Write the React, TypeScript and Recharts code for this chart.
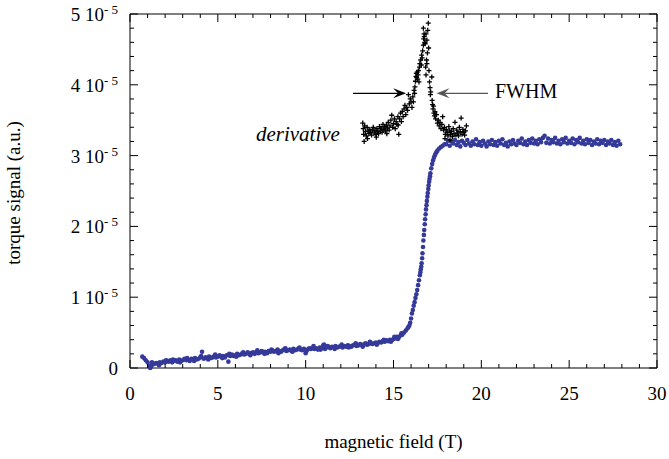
import {
  ScatterChart, Scatter, XAxis, YAxis, ReferenceArea, ReferenceLine, ReferenceDot,
} from "recharts";

// torque values are in units of 1e-5 (a.u.)
const lowField: [number, number][] = [
  [0.7, 0.16], [0.8, 0.14], [0.9, 0.11], [1.0, 0.08], [1.1, 0.03], [1.15, 0.0], [1.2, 0.02],
  [1.3, 0.05], [1.4, 0.06], [1.5, 0.07], [1.6, 0.06], [1.7, 0.08], [1.8, 0.07], [1.9, 0.09],
  [2.0, 0.08], [2.1, 0.10], [2.2, 0.09], [2.3, 0.11], [2.4, 0.08], [2.5, 0.10], [2.6, 0.11],
  [2.7, 0.09], [2.8, 0.12], [2.9, 0.10], [3.0, 0.11], [3.1, 0.13], [3.2, 0.11], [3.3, 0.12],
  [3.4, 0.10], [3.5, 0.13], [3.6, 0.12], [3.7, 0.14], [3.8, 0.12], [3.9, 0.13], [4.0, 0.15],
  [4.1, 0.23], [4.2, 0.13], [4.3, 0.15], [4.4, 0.14], [4.5, 0.16], [4.6, 0.14], [4.7, 0.15],
  [4.8, 0.17], [4.9, 0.15], [5.0, 0.16], [5.1, 0.18], [5.2, 0.16], [5.3, 0.17], [5.4, 0.15],
  [5.5, 0.18], [5.6, 0.09], [5.7, 0.17], [5.8, 0.19], [5.9, 0.17], [6.0, 0.18], [6.1, 0.20],
  [6.2, 0.18], [6.3, 0.19], [6.4, 0.21], [6.5, 0.19], [6.6, 0.20], [6.7, 0.22], [6.8, 0.20],
  [6.9, 0.21], [7.0, 0.22], [7.1, 0.20], [7.2, 0.23], [7.3, 0.21], [7.4, 0.22], [7.5, 0.24],
  [7.6, 0.22], [7.7, 0.23], [7.8, 0.21], [7.9, 0.24], [8.0, 0.23], [8.1, 0.25], [8.2, 0.23],
  [8.3, 0.24], [8.4, 0.26], [8.5, 0.24], [8.6, 0.23], [8.7, 0.25], [8.8, 0.27], [8.9, 0.24],
  [9.0, 0.25], [9.1, 0.26], [9.2, 0.24], [9.3, 0.27], [9.4, 0.25], [9.5, 0.26], [9.6, 0.28],
  [9.7, 0.26], [9.8, 0.25], [9.9, 0.27], [10.0, 0.21], [10.1, 0.26], [10.2, 0.28], [10.3, 0.27],
  [10.4, 0.29], [10.5, 0.27], [10.6, 0.28], [10.7, 0.26], [10.8, 0.29], [10.9, 0.28], [11.0, 0.32],
  [11.1, 0.27], [11.2, 0.29], [11.3, 0.30], [11.4, 0.28], [11.5, 0.30], [11.6, 0.29], [11.7, 0.31],
  [11.8, 0.29], [11.9, 0.30], [12.0, 0.31], [12.1, 0.29], [12.2, 0.31], [12.3, 0.30], [12.4, 0.32],
  [12.5, 0.31], [12.6, 0.30], [12.7, 0.32], [12.8, 0.33], [12.9, 0.31], [13.0, 0.32], [13.1, 0.34],
  [13.2, 0.32], [13.3, 0.33], [13.4, 0.35], [13.5, 0.33], [13.6, 0.34], [13.7, 0.36], [13.8, 0.34],
  [13.9, 0.35], [14.0, 0.36], [14.1, 0.35], [14.2, 0.37], [14.3, 0.36], [14.4, 0.38], [14.5, 0.37],
  [14.6, 0.39], [14.7, 0.38], [14.8, 0.40], [14.9, 0.39], [15.0, 0.41], [15.1, 0.42], [15.2, 0.44],
  [15.3, 0.43], [15.4, 0.46],
];

// second pass of low-field readings (the scatter around the trend)
const lowFieldExtra: [number, number][] = [
  [1.25, 0.08], [1.65, 0.04], [2.05, 0.11], [2.45, 0.12], [2.85, 0.08], [3.25, 0.14], [3.65, 0.10],
  [4.05, 0.17], [4.45, 0.12], [4.85, 0.19], [5.25, 0.14], [5.65, 0.20], [6.05, 0.16], [6.45, 0.22],
  [6.85, 0.18], [7.25, 0.25], [7.65, 0.20], [8.05, 0.26], [8.45, 0.21], [8.85, 0.28], [9.25, 0.23],
  [9.65, 0.29], [10.05, 0.24], [10.45, 0.31], [10.85, 0.26], [11.05, 0.33], [11.25, 0.31],
  [11.65, 0.27], [12.05, 0.33], [12.45, 0.29], [12.85, 0.35], [13.25, 0.30], [13.65, 0.37],
  [14.05, 0.33], [14.45, 0.40], [14.85, 0.37], [15.05, 0.44], [15.25, 0.41], [15.45, 0.49],
];

const transition: [number, number][] = [
  [15.5, 0.47], [15.6, 0.50], [15.7, 0.53], [15.8, 0.56], [15.85, 0.58], [15.9, 0.60], [15.95, 0.64],
  [16.0, 0.70], [16.05, 0.77], [16.1, 0.82], [16.15, 0.88], [16.2, 0.93], [16.25, 0.99],
  [16.3, 1.04], [16.35, 1.10], [16.4, 1.17], [16.45, 1.24], [16.5, 1.31], [16.53, 1.35],
  [16.55, 1.39], [16.58, 1.43], [16.6, 1.48], [16.63, 1.55], [16.65, 1.62], [16.68, 1.71],
  [16.7, 1.80], [16.73, 1.88], [16.75, 1.95], [16.78, 2.03], [16.8, 2.10], [16.83, 2.17],
  [16.85, 2.24], [16.88, 2.30], [16.9, 2.36], [16.93, 2.42], [16.95, 2.47], [16.98, 2.53],
  [17.0, 2.58], [17.03, 2.63], [17.05, 2.67], [17.08, 2.71], [17.1, 2.75], [17.15, 2.82],
  [17.2, 2.88], [17.25, 2.93], [17.3, 2.97], [17.35, 3.00], [17.4, 3.03], [17.45, 3.05],
  [17.5, 3.07], [17.6, 3.10], [17.7, 3.12], [17.8, 3.14], [17.9, 3.16],
];

const plateau: [number, number][] = [
  [18.0, 3.16], [18.1, 3.21], [18.2, 3.14], [18.3, 3.20], [18.4, 3.17], [18.5, 3.22], [18.6, 3.15],
  [18.7, 3.19], [18.8, 3.13], [18.9, 3.21], [19.0, 3.18], [19.1, 3.15], [19.2, 3.22], [19.3, 3.17],
  [19.4, 3.14], [19.5, 3.20], [19.6, 3.16], [19.7, 3.23], [19.8, 3.15], [19.9, 3.19], [20.0, 3.14],
  [20.1, 3.21], [20.2, 3.17], [20.3, 3.13], [20.4, 3.20], [20.5, 3.16], [20.6, 3.22], [20.7, 3.15],
  [20.8, 3.19], [20.9, 3.14], [21.0, 3.21], [21.1, 3.17], [21.2, 3.23], [21.3, 3.15], [21.4, 3.18],
  [21.5, 3.13], [21.6, 3.20], [21.7, 3.16], [21.8, 3.22], [21.9, 3.17], [22.0, 3.15], [22.1, 3.21],
  [22.2, 3.18], [22.3, 3.24], [22.4, 3.16], [22.5, 3.20], [22.6, 3.15], [22.7, 3.22], [22.8, 3.18],
  [22.9, 3.24], [23.0, 3.17], [23.1, 3.21], [23.2, 3.16], [23.3, 3.23], [23.4, 3.19], [23.5, 3.25],
  [23.6, 3.28], [23.7, 3.18], [23.8, 3.24], [23.9, 3.17], [24.0, 3.22], [24.1, 3.19], [24.2, 3.25],
  [24.3, 3.17], [24.4, 3.21], [24.5, 3.16], [24.6, 3.23], [24.7, 3.19], [24.8, 3.25], [24.9, 3.17],
  [25.0, 3.21], [25.1, 3.18], [25.2, 3.24], [25.3, 3.16], [25.4, 3.22], [25.5, 3.19], [25.6, 3.25],
  [25.7, 3.17], [25.8, 3.21], [25.9, 3.16], [26.0, 3.23], [26.1, 3.18], [26.2, 3.22], [26.3, 3.15],
  [26.4, 3.20], [26.5, 3.17], [26.6, 3.23], [26.7, 3.16], [26.8, 3.21], [26.9, 3.18], [27.0, 3.22],
  [27.1, 3.15], [27.2, 3.20], [27.3, 3.17], [27.4, 3.22], [27.5, 3.15], [27.6, 3.19], [27.7, 3.14],
  [27.8, 3.21], [27.9, 3.16],
];

const derivative: [number, number][] = [
  [13.25, 3.46], [13.28, 3.38], [13.3, 3.30], [13.33, 3.20], [13.36, 3.42], [13.4, 3.34],
  [13.45, 3.28], [13.5, 3.40], [13.52, 3.24], [13.55, 3.35], [13.6, 3.31], [13.65, 3.37],
  [13.7, 3.33], [13.75, 3.29], [13.8, 3.36], [13.85, 3.40], [13.9, 3.32], [13.95, 3.35],
  [14.0, 3.30], [14.02, 3.26], [14.05, 3.38], [14.1, 3.34], [14.15, 3.31], [14.2, 3.41],
  [14.25, 3.36], [14.3, 3.39], [14.35, 3.33], [14.4, 3.44], [14.45, 3.37], [14.5, 3.41],
  [14.55, 3.35], [14.6, 3.43], [14.62, 3.31], [14.65, 3.39], [14.7, 3.47], [14.75, 3.36],
  [14.8, 3.42], [14.85, 3.50], [14.9, 3.57], [14.95, 3.40], [15.0, 3.45], [15.05, 3.52],
  [15.1, 3.38], [15.15, 3.48], [15.2, 3.44], [15.25, 3.55], [15.27, 3.43], [15.3, 3.30],
  [15.35, 3.52], [15.4, 3.60], [15.45, 3.48], [15.5, 3.62], [15.55, 3.55], [15.6, 3.66],
  [15.65, 3.71], [15.7, 3.58], [15.75, 3.68], [15.8, 3.64], [15.85, 3.86], [15.9, 3.73],
  [15.95, 3.80], [16.0, 3.76], [16.05, 3.68], [16.1, 3.83], [16.13, 3.76], [16.17, 3.92],
  [16.2, 3.88], [16.22, 3.97], [16.25, 4.05], [16.28, 4.12], [16.3, 4.16], [16.32, 4.10],
  [16.35, 4.18], [16.38, 4.08], [16.4, 4.14], [16.42, 4.20], [16.45, 4.04], [16.48, 4.25],
  [16.5, 4.30], [16.55, 4.35], [16.58, 4.28], [16.6, 4.42], [16.63, 4.38], [16.66, 4.48],
  [16.7, 4.56], [16.72, 4.65], [16.7, 4.80], [16.74, 4.72], [16.78, 4.60], [16.75, 4.68],
  [16.8, 4.58], [16.85, 4.72], [16.9, 4.63], [16.95, 4.77], [16.98, 4.87], [17.0, 4.52],
  [16.93, 4.45], [16.88, 4.35], [16.83, 4.25], [16.85, 4.14], [16.9, 4.30], [17.02, 4.20],
  [17.05, 4.04], [17.08, 3.96], [17.1, 3.86], [17.12, 3.90], [17.18, 4.11], [17.2, 3.78],
  [17.22, 3.72], [17.25, 3.66], [17.28, 3.70], [17.3, 3.60], [17.33, 3.56], [17.36, 3.62],
  [17.4, 3.52], [17.45, 3.58], [17.5, 3.46], [17.55, 3.50], [17.6, 3.42], [17.65, 3.47],
  [17.7, 3.38], [17.75, 3.44], [17.8, 3.55], [17.85, 3.36], [17.9, 3.40], [17.93, 3.24],
  [17.95, 3.30], [18.0, 3.37], [18.05, 3.33], [18.1, 3.28], [18.15, 3.41], [18.2, 3.35],
  [18.22, 3.22], [18.25, 3.30], [18.3, 3.34], [18.35, 3.27], [18.4, 3.38], [18.45, 3.31],
  [18.5, 3.47], [18.55, 3.29], [18.6, 3.36], [18.65, 3.32], [18.7, 3.28], [18.75, 3.40],
  [18.8, 3.34], [18.85, 3.53], [18.9, 3.30], [18.95, 3.37], [19.0, 3.33], [19.05, 3.29],
  [19.1, 3.35], [19.15, 3.42],
];

const xTicks = [
  0, 1, 2, 3, 4, 5, 6, 7, 8, 9, 10, 11, 12, 13, 14, 15, 16, 17, 18, 19, 20,
  21, 22, 23, 24, 25, 26, 27, 28, 29, 30,
];
const yTicks = [
  0, 0.2, 0.4, 0.6, 0.8, 1, 1.2, 1.4, 1.6, 1.8, 2, 2.2, 2.4, 2.6, 2.8, 3,
  3.2, 3.4, 3.6, 3.8, 4, 4.2, 4.4, 4.6, 4.8, 5,
];

const W = 669;
const H = 459;
const TOP = 14;
const RIGHT_M = 12;
const Y_AXIS_W = 130;
const X_AXIS_H = 91;
const BOTTOM = H - X_AXIS_H;
const LEFT = Y_AXIS_W;
const RIGHT = W - RIGHT_M;
const FONT = '"Liberation Serif", "Times New Roman", Times, "DejaVu Serif", serif';
const BLUE = "#34399a";
const txt = { fontFamily: FONT };

const toPts = (a: [number, number][]) => a.map(([x, y]) => ({ x, y }));
const isMajor = (v: number, step: number) => Math.abs(v / step - Math.round(v / step)) < 1e-6;

const XTick = (props: any) => {
  const { x, payload } = props;
  const v = payload.value;
  const major = isMajor(v, 5);
  const len = major ? 8 : 4;
  return (
    <g>
      <line x1={x} x2={x} y1={BOTTOM} y2={BOTTOM - len} stroke="#000" strokeWidth={1} />
      <line x1={x} x2={x} y1={TOP} y2={TOP + len} stroke="#000" strokeWidth={1} />
      {major && (
        <text x={x} y={BOTTOM + 32} textAnchor="middle" style={txt} fontSize={19} fill="#000">
          {v}
        </text>
      )}
    </g>
  );
};

const YTick = (props: any) => {
  const { y, payload } = props;
  const v = payload.value;
  const major = isMajor(v, 1);
  const len = major ? 8 : 4;
  const n = Math.round(v);
  return (
    <g>
      <line x1={LEFT} x2={LEFT + len} y1={y} y2={y} stroke="#000" strokeWidth={1} />
      <line x1={RIGHT} x2={RIGHT - len} y1={y} y2={y} stroke="#000" strokeWidth={1} />
      {major && (
        <text x={LEFT - 12} y={y + 7} textAnchor="end" style={txt} fontSize={19} fill="#000">
          {n === 0 ? (
            "0"
          ) : (
            <>
              <tspan>{`${n} 10`}</tspan>
              <tspan dy={-7} fontSize={13}>{"- 5"}</tspan>
            </>
          )}
        </text>
      )}
    </g>
  );
};

const Dot = (p: any) => <circle cx={p.cx} cy={p.cy} r={2.3} fill={BLUE} />;
const Cross = (p: any) => (
  <path
    d={`M${p.cx - 2.5},${p.cy}H${p.cx + 2.5}M${p.cx},${p.cy - 2.5}V${p.cy + 2.5}`}
    stroke="#000"
    strokeWidth={1.3}
  />
);

const arrow = (color: string, label?: string) => (p: any) => {
  const { x1, y1, x2, y2 } = p;
  const d = Math.sign(x2 - x1);
  const L = 13, Wd = 5, N = 8;
  const pts = `${x2},${y2} ${x2 - d * L},${y2 - Wd} ${x2 - d * N},${y2} ${x2 - d * L},${y2 + Wd}`;
  return (
    <g>
      <line x1={x1} y1={y1} x2={x2 - d * N} y2={y2} stroke={color} strokeWidth={1.2} />
      <polygon points={pts} fill={color} />
      {label && (
        <text x={x1 + 7} y={y1 + 5} style={txt} fontSize={20} fill="#000">
          {label}
        </text>
      )}
    </g>
  );
};

const DerivLabel = (p: any) => (
  <text x={p.cx} y={p.cy} textAnchor="end" style={txt} fontSize={21} fontStyle="italic" fill="#000">
    derivative
  </text>
);

const XTitle = () => (
  <text x={(LEFT + RIGHT) / 2} y={BOTTOM + 80} textAnchor="middle" style={txt} fontSize={19} fill="#000">
    magnetic field (T)
  </text>
);

const YTitle = () => {
  const cy = (TOP + BOTTOM) / 2 + 2;
  return (
    <text x={20} y={cy} transform={`rotate(-90 20 ${cy})`} textAnchor="middle" style={txt} fontSize={19} fill="#000">
      torque signal (a.u.)
    </text>
  );
};

export default function App() {
  return (
    <div style={{ position: "absolute", left: 0, top: 0, background: "#fff" }}>
      <ScatterChart width={W} height={H} margin={{ top: TOP, right: RIGHT_M, bottom: 0, left: 0 }}>
        <XAxis
          type="number"
          dataKey="x"
          domain={[0, 30]}
          ticks={xTicks}
          interval={0}
          axisLine={false}
          tickLine={false}
          height={X_AXIS_H}
          tick={<XTick />}
          label={<XTitle />}
        />
        <YAxis
          type="number"
          dataKey="y"
          domain={[0, 5]}
          ticks={yTicks}
          interval={0}
          axisLine={false}
          tickLine={false}
          width={Y_AXIS_W}
          tick={<YTick />}
          label={<YTitle />}
        />
        <ReferenceArea x1={0} x2={30} y1={0} y2={5} fill="none" fillOpacity={0} stroke="#000" strokeWidth={1} />
        <Scatter data={toPts(lowField)} shape={Dot} isAnimationActive={false} />
        <Scatter data={toPts(lowFieldExtra)} shape={Dot} isAnimationActive={false} />
        <Scatter data={toPts(transition)} shape={Dot} isAnimationActive={false} />
        <Scatter data={toPts(plateau)} shape={Dot} isAnimationActive={false} />
        <Scatter data={toPts(derivative)} shape={Cross} isAnimationActive={false} />
        <ReferenceLine segment={[{ x: 12.7, y: 3.88 }, { x: 15.72, y: 3.88 }]} shape={arrow("#000")} />
        <ReferenceLine segment={[{ x: 20.38, y: 3.88 }, { x: 17.45, y: 3.88 }]} shape={arrow("#555", "FWHM")} />
        <ReferenceDot x={11.95} y={3.2} r={0} shape={DerivLabel} />
      </ScatterChart>
    </div>
  );
}
